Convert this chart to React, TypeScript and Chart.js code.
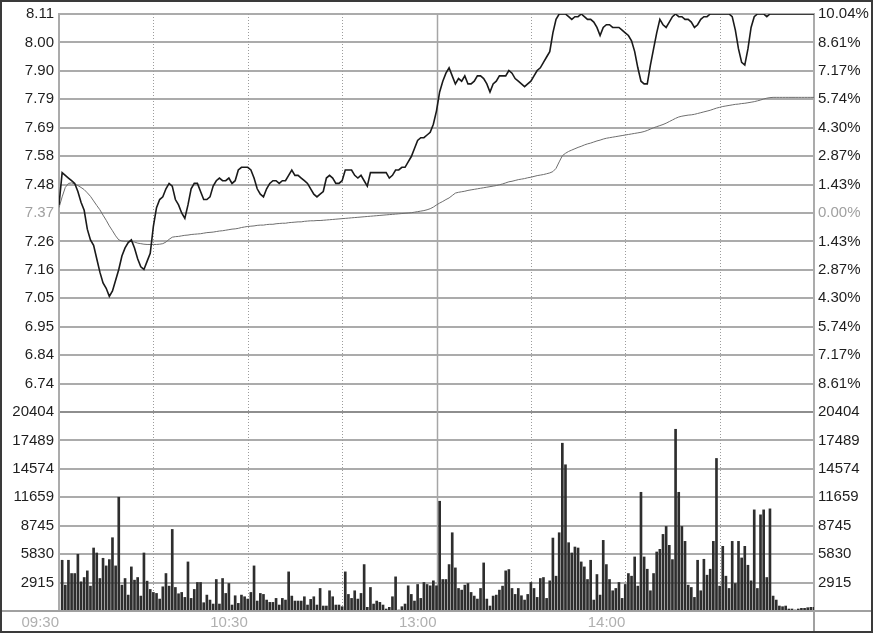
import React, { useEffect, useRef } from 'react';
import { Chart, registerables } from 'chart.js';

Chart.register(...registerables);

const FONT = '"Liberation Sans", Arial, sans-serif';

// ---- reference values ----
const PREV_CLOSE = 7.37;
const LIMIT_UP = 8.11;

// intraday price, one point per minute (09:30 ... 15:00, 241 points)
const PRICE = [
  7.40, 7.52, 7.51, 7.50, 7.49, 7.48, 7.45, 7.41, 7.38, 7.31,
  7.27, 7.25, 7.20, 7.15, 7.11, 7.09, 7.06, 7.08, 7.12, 7.16,
  7.21, 7.24, 7.26, 7.27, 7.24, 7.20, 7.17, 7.16, 7.19, 7.22,
  7.32, 7.39, 7.42, 7.43, 7.46, 7.48, 7.47, 7.42, 7.40, 7.37,
  7.35, 7.40, 7.46, 7.48, 7.48, 7.45, 7.42, 7.42, 7.43, 7.47,
  7.49, 7.50, 7.49, 7.49, 7.50, 7.48, 7.49, 7.53, 7.54, 7.54,
  7.54, 7.53, 7.50, 7.46, 7.44, 7.43, 7.46, 7.48, 7.49, 7.49,
  7.48, 7.49, 7.49, 7.51, 7.53, 7.51, 7.51, 7.50, 7.49, 7.48,
  7.46, 7.44, 7.43, 7.44, 7.45, 7.50, 7.51, 7.50, 7.48, 7.48,
  7.49, 7.53, 7.53, 7.53, 7.51, 7.50, 7.51, 7.49, 7.47, 7.52,
  7.52, 7.52, 7.52, 7.52, 7.52, 7.50, 7.51, 7.53, 7.53, 7.54,
  7.54, 7.56, 7.58, 7.61, 7.64, 7.65, 7.65, 7.66, 7.67, 7.70,
  7.75, 7.82, 7.86, 7.89, 7.91, 7.88, 7.85, 7.87, 7.86, 7.88,
  7.85, 7.85, 7.86, 7.88, 7.88, 7.87, 7.85, 7.82, 7.85, 7.86,
  7.88, 7.88, 7.88, 7.90, 7.89, 7.87, 7.86, 7.85, 7.84, 7.85,
  7.86, 7.88, 7.90, 7.91, 7.93, 7.95, 7.97, 8.04, 8.09, 8.11,
  8.11, 8.11, 8.10, 8.09, 8.10, 8.10, 8.11, 8.10, 8.09, 8.09,
  8.08, 8.06, 8.03, 8.06, 8.07, 8.07, 8.06, 8.06, 8.06, 8.05,
  8.04, 8.03, 8.01, 7.97, 7.91, 7.86, 7.85, 7.85, 7.92, 7.98,
  8.04, 8.09, 8.07, 8.06, 8.08, 8.10, 8.11, 8.10, 8.10, 8.09,
  8.09, 8.08, 8.06, 8.07, 8.09, 8.10, 8.10, 8.11, 8.11, 8.11,
  8.11, 8.11, 8.11, 8.11, 8.10, 8.05, 7.98, 7.93, 7.92, 7.98,
  8.06, 8.10, 8.11, 8.11, 8.11, 8.10, 8.11, 8.11, 8.11, 8.11,
  8.11, 8.11, 8.11, 8.11, 8.11, 8.11, 8.11, 8.11, 8.11, 8.11,
  8.11,
];

// average price line (241 points)
const AVG = [
  7.390, 7.430, 7.465, 7.480, 7.482, 7.478, 7.472, 7.465, 7.457, 7.445,
  7.432, 7.415, 7.398, 7.382, 7.362, 7.343, 7.322, 7.304, 7.285, 7.270,
  7.266, 7.265, 7.265, 7.264, 7.262, 7.258, 7.256, 7.254, 7.253, 7.253,
  7.253, 7.253, 7.254, 7.256, 7.262, 7.272, 7.280, 7.282, 7.283, 7.285,
  7.287, 7.288, 7.290, 7.291, 7.292, 7.293, 7.295, 7.297, 7.298, 7.299,
  7.301, 7.303, 7.304, 7.306, 7.308, 7.310, 7.311, 7.313, 7.316, 7.318,
  7.320, 7.321, 7.322, 7.324, 7.325, 7.325, 7.327, 7.328, 7.328, 7.330,
  7.331, 7.332, 7.332, 7.334, 7.335, 7.336, 7.337, 7.337, 7.339, 7.340,
  7.341, 7.341, 7.342, 7.342, 7.343, 7.344, 7.345, 7.346, 7.347, 7.348,
  7.349, 7.350, 7.351, 7.352, 7.353, 7.354, 7.355, 7.356, 7.357, 7.358,
  7.359, 7.360, 7.361, 7.362, 7.363, 7.364, 7.365, 7.366, 7.367, 7.368,
  7.369, 7.370, 7.371, 7.373, 7.375, 7.377, 7.379, 7.382, 7.386, 7.392,
  7.400, 7.407, 7.413, 7.420, 7.426, 7.435, 7.444, 7.447, 7.449, 7.451,
  7.454, 7.456, 7.458, 7.460, 7.462, 7.464, 7.466, 7.468, 7.470, 7.472,
  7.475, 7.478, 7.482, 7.486, 7.488, 7.491, 7.494, 7.496, 7.498, 7.501,
  7.503, 7.506, 7.509, 7.511, 7.513, 7.516, 7.519, 7.524, 7.536, 7.560,
  7.583, 7.592, 7.599, 7.604, 7.609, 7.614, 7.618, 7.623, 7.627, 7.630,
  7.634, 7.638, 7.641, 7.645, 7.648, 7.650, 7.652, 7.654, 7.656, 7.658,
  7.660, 7.662, 7.664, 7.666, 7.668, 7.670, 7.673, 7.677, 7.682, 7.687,
  7.691, 7.695, 7.699, 7.704, 7.710, 7.716, 7.722, 7.727, 7.730, 7.732,
  7.734, 7.735, 7.737, 7.740, 7.743, 7.746, 7.749, 7.752, 7.756, 7.760,
  7.763, 7.766, 7.768, 7.770, 7.772, 7.774, 7.775, 7.777, 7.778, 7.780,
  7.782, 7.784, 7.787, 7.790, 7.794, 7.797, 7.799, 7.800, 7.800, 7.800,
  7.800, 7.800, 7.800, 7.800, 7.800, 7.800, 7.800, 7.800, 7.800, 7.800,
  7.800,
];

// per-minute volume, minutes 1..240
const VOLUME = [
  5202, 2652, 5202, 3842, 3842, 5814, 2992, 3434, 4114, 2550,
  6460, 5950, 3332, 5406, 4624, 5270, 7514, 4624, 11662, 2652,
  3332, 1632, 4522, 3162, 3434, 1530, 5950, 3060, 2210, 1904,
  1802, 1224, 2482, 3842, 2550, 8364, 2414, 1768, 1904, 1394,
  5032, 1292, 2210, 2924, 2924, 850, 1632, 1122, 714, 3230,
  714, 3332, 1802, 2822, 612, 1564, 782, 1632, 1462, 1224,
  1904, 4624, 1020, 1802, 1700, 1122, 884, 884, 1292, 612,
  1292, 1122, 4012, 1530, 1020, 1020, 1020, 1462, 612, 1190,
  1462, 612, 2312, 510, 510, 2074, 1462, 612, 612, 442,
  4012, 1700, 1292, 2074, 1224, 1802, 4760, 374, 2414, 714,
  1020, 884, 612, 204, 374, 1462, 3502, 102, 442, 714,
  2584, 1700, 1020, 2720, 1292, 2924, 2720, 2584, 3094, 2584,
  11254, 3230, 3230, 4760, 8024, 4420, 2312, 2142, 2652, 2822,
  1904, 1530, 1224, 2312, 4930, 1224, 510, 1530, 1632, 2142,
  2550, 4114, 4250, 2312, 1700, 2312, 1564, 1122, 1700, 2924,
  2312, 1394, 3332, 3434, 1292, 3094, 7480, 3570, 8024, 17204,
  14994, 7004, 5950, 6562, 6460, 5032, 4522, 3230, 5202, 1122,
  3740, 1632, 7242, 4760, 3230, 2074, 2312, 2924, 1292, 2720,
  3842, 3570, 5542, 2550, 12172, 5542, 4284, 2074, 3842, 6052,
  6324, 7854, 8670, 6732, 5270, 18632, 12172, 8670, 7140, 2652,
  2414, 1394, 5202, 2074, 5304, 3672, 4284, 7140, 15640, 2550,
  6630, 3570, 2312, 7140, 2822, 7140, 5440, 6630, 4692, 3094,
  10370, 2312, 9860, 10370, 3434, 10472, 1530, 1122, 510, 442,
  510, 204, 204, 102, 204, 272, 272, 340, 374, 374,
];

// tick labels (top to bottom)
const PRICE_TICK_LABELS = ['8.11', '8.00', '7.90', '7.79', '7.69', '7.58', '7.48', '7.37',
  '7.26', '7.16', '7.05', '6.95', '6.84', '6.74'];
const PCT_TICK_LABELS = ['10.04%', '8.61%', '7.17%', '5.74%', '4.30%', '2.87%', '1.43%', '0.00%',
  '1.43%', '2.87%', '4.30%', '5.74%', '7.17%', '8.61%'];
const VOLUME_TICKS = [0, 2915, 5830, 8745, 11659, 14574, 17489, 20404];
const VOLUME_TICK_LABELS = ['', '2915', '5830', '8745', '11659', '14574', '17489', '20404'];
const TIME_TICKS = [0, 30, 60, 90, 120, 150, 180, 210, 240];
const TIME_LABELS: Record<number, string> = { 0: '09:30', 60: '10:30', 120: '13:00', 180: '14:00' };

const STEP = (LIMIT_UP - PREV_CLOSE) / 7;
const PRICE_MIN = PREV_CLOSE - 7 * STEP;
const PRICE_TICKS = Array.from({ length: 15 }, (_, i) => PREV_CLOSE + (i - 7) * STEP);
const kOf = (v: number) => Math.round((v - PREV_CLOSE) / STEP);

const GRID = '#ababab';
const LABEL = '#1e1e1e';
const MUTED = '#a0a0a0';

const framePlugin = {
  id: 'frame',
  beforeDatasetsDraw(chart: any) {
    const { ctx, chartArea, scales } = chart;
    const x = scales.x;
    ctx.save();
    for (const t of TIME_TICKS) {
      if (t === 0 || t === 240) continue;
      const px = Math.round(x.getPixelForValue(t)) + 0.5;
      ctx.beginPath();
      if (t === 120) {
        ctx.setLineDash([]);
        ctx.strokeStyle = '#a6a6a6';
        ctx.lineWidth = 1.5;
      } else {
        ctx.setLineDash([1, 2]);
        ctx.strokeStyle = '#9c9c9c';
        ctx.lineWidth = 1;
      }
      ctx.moveTo(px, chartArea.top);
      ctx.lineTo(px, chartArea.bottom);
      ctx.stroke();
    }
    ctx.restore();
  },
  afterDraw(chart: any) {
    const { ctx, chartArea, width, height } = chart;
    ctx.save();
    ctx.setLineDash([]);
    // base line across the full width
    ctx.strokeStyle = '#a0a0a0';
    ctx.lineWidth = 2;
    ctx.beginPath();
    ctx.moveTo(0, chartArea.bottom);
    ctx.lineTo(width, chartArea.bottom);
    ctx.stroke();
    // right plot edge continues down to the frame
    ctx.beginPath();
    ctx.moveTo(chartArea.right, chartArea.bottom);
    ctx.lineTo(chartArea.right, height);
    ctx.stroke();
    // outer frame
    ctx.strokeStyle = '#3a3a3a';
    ctx.lineWidth = 2;
    ctx.strokeRect(1, 1, width - 2, height - 2);
    ctx.restore();
  },
};

export default function App() {
  const ref = useRef<HTMLCanvasElement>(null);

  useEffect(() => {
    const canvas = ref.current;
    if (!canvas) return;
    const font = { family: FONT, size: 15 };

    const chart = new Chart(canvas, {
      type: 'line',
      data: {
        datasets: [
          {
            type: 'line',
            label: 'price',
            data: PRICE.map((v, i) => ({ x: i, y: v })),
            xAxisID: 'x',
            yAxisID: 'y',
            borderColor: '#1a1a1a',
            borderWidth: 1.6,
            pointRadius: 0,
            tension: 0,
            order: 1,
          },
          {
            type: 'line',
            label: 'avg',
            data: AVG.map((v, i) => ({ x: i, y: v })),
            xAxisID: 'x',
            yAxisID: 'y',
            borderColor: '#6e6e6e',
            borderWidth: 1,
            pointRadius: 0,
            tension: 0,
            order: 2,
          },
          {
            type: 'bar',
            label: 'volume',
            data: VOLUME.map((v, i) => ({ x: i + 1, y: v })),
            xAxisID: 'x',
            yAxisID: 'yv',
            backgroundColor: '#2e2e2e',
            borderWidth: 0,
            barThickness: 2,
            order: 3,
          },
        ] as any,
      },
      options: {
        animation: false,
        responsive: false,
        events: [],
        layout: { padding: { top: 12, left: 0, right: 0, bottom: 0 } },
        plugins: { legend: { display: false }, tooltip: { enabled: false } },
        scales: {
          x: {
            type: 'linear',
            position: 'bottom',
            min: 0,
            max: 240,
            offset: false,
            afterBuildTicks: (s: any) => { s.ticks = TIME_TICKS.map((v) => ({ value: v })); },
            afterFit: (s: any) => { s.height = 22; },
            ticks: {
              autoSkip: false,
              maxRotation: 0,
              minRotation: 0,
              align: 'end',
              padding: 3,
              font,
              color: '#b0b0b0',
              callback: (v: any) => TIME_LABELS[Number(v)] ?? '',
            },
            grid: { display: false, drawTicks: false },
            border: { display: false },
          },
          y: {
            type: 'linear',
            position: 'left',
            stack: 'left',
            stackWeight: 14,
            weight: 2,
            min: PRICE_MIN,
            max: LIMIT_UP,
            afterBuildTicks: (s: any) => { s.ticks = PRICE_TICKS.map((v) => ({ value: v })); },
            afterFit: (s: any) => { s.width = 59; },
            ticks: {
              autoSkip: false,
              padding: 5,
              font,
              color: (c: any) => (c.tick && kOf(c.tick.value) === 0 ? MUTED : LABEL),
              callback: (v: any) => {
                const k = kOf(Number(v));
                return k < -6 ? '' : PRICE_TICK_LABELS[7 - k];
              },
            },
            grid: {
              drawTicks: false,
              lineWidth: 2,
              color: (c: any) => (c.tick && kOf(c.tick.value) === -7 ? 'rgba(0,0,0,0)' : GRID),
            },
            border: { display: true, color: GRID, width: 2 },
          },
          yv: {
            type: 'linear',
            position: 'left',
            stack: 'left',
            stackWeight: 7,
            weight: 1,
            min: 0,
            max: 20404,
            afterBuildTicks: (s: any) => { s.ticks = VOLUME_TICKS.map((v) => ({ value: v })); },
            afterFit: (s: any) => { s.width = 59; },
            ticks: {
              autoSkip: false,
              padding: 5,
              font,
              color: LABEL,
              callback: (v: any) => VOLUME_TICK_LABELS[VOLUME_TICKS.indexOf(Number(v))] ?? '',
            },
            grid: {
              drawTicks: false,
              lineWidth: 2,
              color: (c: any) => (c.tick && c.tick.value === 20404 ? '#8e8e8e' : GRID),
            },
            border: { display: true, color: GRID, width: 2 },
          },
          y2: {
            type: 'linear',
            position: 'right',
            stack: 'right',
            stackWeight: 14,
            weight: 1,
            min: PRICE_MIN,
            max: LIMIT_UP,
            afterBuildTicks: (s: any) => { s.ticks = PRICE_TICKS.map((v) => ({ value: v })); },
            afterFit: (s: any) => { s.width = 59; },
            ticks: {
              autoSkip: false,
              padding: 4,
              font,
              color: (c: any) => (c.tick && kOf(c.tick.value) === 0 ? MUTED : LABEL),
              callback: (v: any) => {
                const k = kOf(Number(v));
                return k < -6 ? '' : PCT_TICK_LABELS[7 - k];
              },
            },
            grid: { drawTicks: false, drawOnChartArea: false },
            border: { display: true, color: GRID, width: 2 },
          },
          yv2: {
            type: 'linear',
            position: 'right',
            stack: 'right',
            stackWeight: 7,
            weight: 2,
            min: 0,
            max: 20404,
            afterBuildTicks: (s: any) => { s.ticks = VOLUME_TICKS.map((v) => ({ value: v })); },
            afterFit: (s: any) => { s.width = 59; },
            ticks: {
              autoSkip: false,
              padding: 4,
              font,
              color: LABEL,
              callback: (v: any) => VOLUME_TICK_LABELS[VOLUME_TICKS.indexOf(Number(v))] ?? '',
            },
            grid: { drawTicks: false, drawOnChartArea: false },
            border: { display: true, color: GRID, width: 2 },
          },
        } as any,
      },
      plugins: [framePlugin],
    });

    return () => chart.destroy();
  }, []);

  return (
    <div style={{ position: 'absolute', left: 0, top: 0, width: 873, height: 633, background: '#ffffff' }}>
      <canvas ref={ref} width={873} height={633} style={{ display: 'block', width: 873, height: 633 }} />
    </div>
  );
}
